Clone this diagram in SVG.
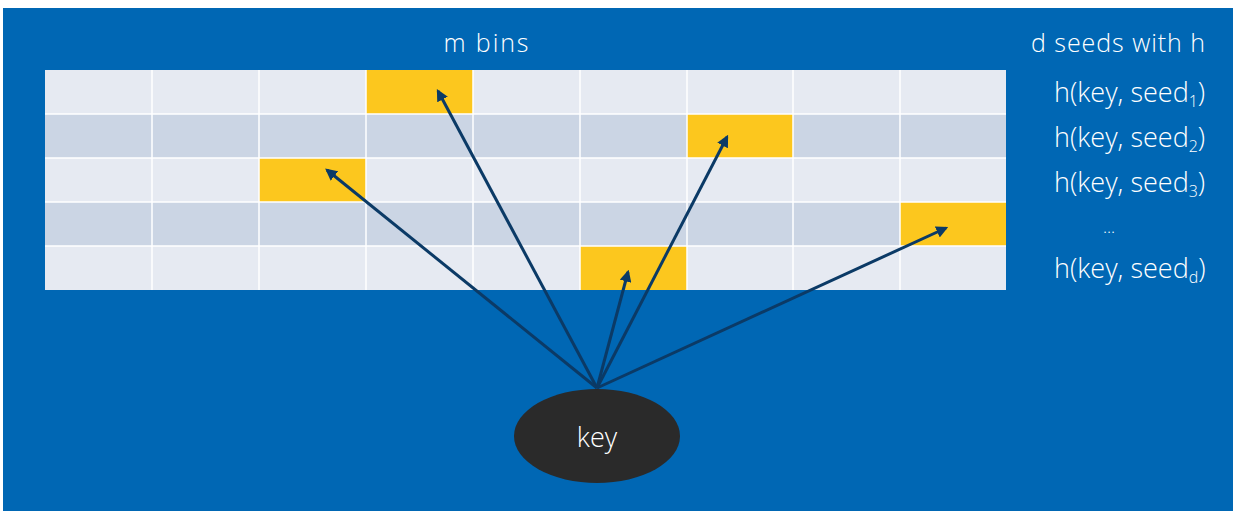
<svg xmlns="http://www.w3.org/2000/svg" width="1240" height="511" viewBox="0 0 1240 511">
<style>
.lt{fill:#E6EAF2}
.dk{fill:#CBD5E4}
.y{fill:#FCC71E}
.grid{stroke:#FFFFFF;stroke-width:1.5;fill:none}
.t{font-family:"Open Sans","Liberation Sans",sans-serif;font-size:25px;fill:#FFFFFF;font-weight:300}
.h{font-size:27px}
.sub{font-size:16px}
.arr{stroke:#0B3A66;stroke-width:3;fill:none;marker-end:url(#ah)}
</style>
<defs>
<marker id="ah" viewBox="0 0 10 10" refX="8" refY="5" markerWidth="4" markerHeight="4" orient="auto" markerUnits="strokeWidth">
<path d="M0,0 L10,5 L0,10 Z" fill="#0B3A66"/>
</marker>
</defs>
<rect x="0" y="0" width="1240" height="511" fill="#FFFFFF"/>
<rect x="3" y="8" width="1230" height="503" fill="#0067B4"/>
<g id="grid">
<rect class="lt" x="45" y="70" width="961" height="44"/>
<rect class="dk" x="45" y="114" width="961" height="44"/>
<rect class="lt" x="45" y="158" width="961" height="44"/>
<rect class="dk" x="45" y="202" width="961" height="44"/>
<rect class="lt" x="45" y="246" width="961" height="44"/>
<rect class="y" x="366" y="70" width="107" height="44"/>
<rect class="y" x="687" y="114" width="106" height="44"/>
<rect class="y" x="259" y="158" width="107" height="44"/>
<rect class="y" x="900" y="202" width="106" height="44"/>
<rect class="y" x="580" y="246" width="107" height="44"/>
<path class="grid" d="M152,70V290M259,70V290M366,70V290M473,70V290M580,70V290M687,70V290M793,70V290M900,70V290M45,114H1006M45,158H1006M45,202H1006M45,246H1006"/>
</g>
<g id="labels">
<text class="t" x="486" y="52" text-anchor="middle" textLength="85">m  bins</text>
<text class="t" x="1031" y="52" textLength="174">d seeds with h</text>
<text class="t h" x="1054" y="102">h(key, seed<tspan class="sub" dy="5">1</tspan><tspan dy="-5">)</tspan></text>
<text class="t h" x="1054" y="147">h(key, seed<tspan class="sub" dy="5">2</tspan><tspan dy="-5">)</tspan></text>
<text class="t h" x="1054" y="192">h(key, seed<tspan class="sub" dy="5">3</tspan><tspan dy="-5">)</tspan></text>
<text class="t" x="1109" y="233" text-anchor="middle" style="font-size:17px">...</text>
<text class="t h" x="1054" y="278">h(key, seed<tspan class="sub" dy="5">d</tspan><tspan dy="-5">)</tspan></text>
</g>
<g id="connectors">
<line class="arr" x1="597" y1="388" x2="438" y2="91"/>
<line class="arr" x1="597" y1="388" x2="727" y2="137"/>
<line class="arr" x1="597" y1="388" x2="327" y2="170"/>
<line class="arr" x1="597" y1="388" x2="946" y2="228"/>
<line class="arr" x1="597" y1="388" x2="628" y2="272"/>
</g>
<g id="key">
<ellipse cx="597" cy="436" rx="83" ry="47" fill="#2A2A2A"/>
<text class="t" x="597" y="447" text-anchor="middle" style="font-size:27px">key</text>
</g>
</svg>
